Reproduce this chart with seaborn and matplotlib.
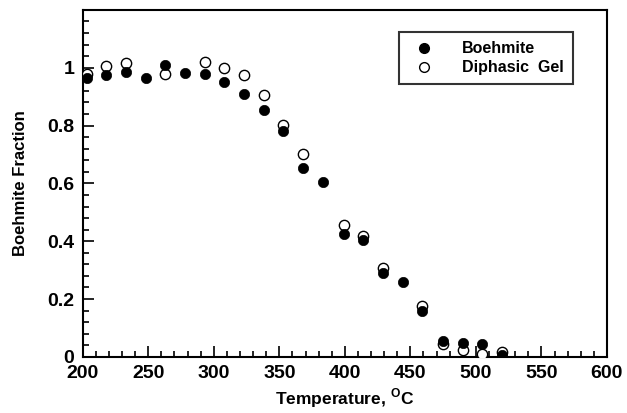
import pandas as pd
import seaborn as sns
import matplotlib.pyplot as plt
from matplotlib.ticker import MultipleLocator, FixedLocator, FixedFormatter
from matplotlib.lines import Line2D

# Values
boehmite_temp = [203, 218, 233, 248, 263, 278, 293, 308, 323, 338, 353, 368,
                 383, 399, 414, 429, 444, 459, 475, 490, 505, 520]
boehmite_frac = [0.966, 0.974, 0.985, 0.965, 1.008, 0.983, 0.978, 0.949, 0.908,
                 0.853, 0.781, 0.654, 0.606, 0.424, 0.405, 0.290, 0.260, 0.158,
                 0.056, 0.048, 0.044, 0.007]

gel_temp = [203, 218, 233, 263, 293, 308, 323, 338, 353, 368,
            399, 414, 429, 459, 475, 490, 505, 520]
gel_frac = [0.980, 1.005, 1.017, 0.978, 1.020, 0.998, 0.975, 0.905, 0.802, 0.701,
            0.456, 0.419, 0.306, 0.176, 0.045, 0.022, 0.009, 0.015]

x_ticks = [200, 250, 300, 350, 400, 450, 500, 550, 600]
y_ticks = [0, 0.2, 0.4, 0.6, 0.8, 1.0]
y_labels = ["0", "0.2", "0.4", "0.6", "0.8", "1"]

boehmite = pd.DataFrame({"Temperature": boehmite_temp, "Fraction": boehmite_frac})
gel = pd.DataFrame({"Temperature": gel_temp, "Fraction": gel_frac})

sns.set_style("white")
plt.rcParams["font.family"] = ["Liberation Sans", "DejaVu Sans"]
plt.rcParams["font.weight"] = "bold"
plt.rcParams["text.color"] = "black"
plt.rcParams["axes.labelcolor"] = "black"
plt.rcParams["xtick.color"] = "black"
plt.rcParams["ytick.color"] = "black"
plt.rcParams["mathtext.fontset"] = "custom"
plt.rcParams["mathtext.rm"] = "Liberation Sans:bold"
plt.rcParams["mathtext.bf"] = "Liberation Sans:bold"

fig = plt.figure(figsize=(6.27, 4.13), dpi=100)
ax = fig.add_axes([0.132, 0.136, 0.836, 0.840])

# open circles first so the filled ones sit on top
sns.scatterplot(data=gel, x="Temperature", y="Fraction", ax=ax, s=55,
                facecolor="white", edgecolor="black", linewidth=1.0, zorder=3)
sns.scatterplot(data=boehmite, x="Temperature", y="Fraction", ax=ax, s=55,
                color="black", edgecolor="black", linewidth=0.5, zorder=4)

ax.set_xlim(200, 600)
ax.set_ylim(0, 1.2)
ax.xaxis.set_major_locator(FixedLocator(x_ticks))
ax.xaxis.set_minor_locator(MultipleLocator(10))
ax.yaxis.set_major_locator(FixedLocator(y_ticks))
ax.yaxis.set_major_formatter(FixedFormatter(y_labels))
ax.yaxis.set_minor_locator(MultipleLocator(0.04))

ax.tick_params(which="both", direction="in", bottom=True, left=True,
               top=False, right=False, labelsize=14, width=1.2,
               color="black", labelcolor="black")
ax.tick_params(which="major", length=8, pad=6)
ax.tick_params(which="minor", length=4)
for lab in ax.get_xticklabels() + ax.get_yticklabels():
    lab.set_fontweight("bold")

for sp in ax.spines.values():
    sp.set_visible(True)
    sp.set_color("black")
    sp.set_linewidth(1.5)

ax.set_xlabel(r"Temperature, $^{\mathrm{O}}$C", fontsize=12.5, fontweight="bold", labelpad=3)
ax.set_ylabel("Boehmite Fraction", fontsize=12, fontweight="bold", labelpad=14)

handles = [
    Line2D([], [], marker="o", linestyle="none", markersize=7,
           markerfacecolor="black", markeredgecolor="black"),
    Line2D([], [], marker="o", linestyle="none", markersize=7,
           markerfacecolor="white", markeredgecolor="black"),
]
leg = ax.legend(handles, ["Boehmite", "Diphasic  Gel"], loc="upper right",
                bbox_to_anchor=(0.935, 0.935), frameon=True, fancybox=False,
                edgecolor="black", fontsize=11.5, handletextpad=1.4,
                borderpad=0.55, labelspacing=0.25, borderaxespad=0)
leg.get_frame().set_linewidth(1.5)
for t in leg.get_texts():
    t.set_fontweight("bold")

fig.savefig("out.png", dpi=100, facecolor="white")
